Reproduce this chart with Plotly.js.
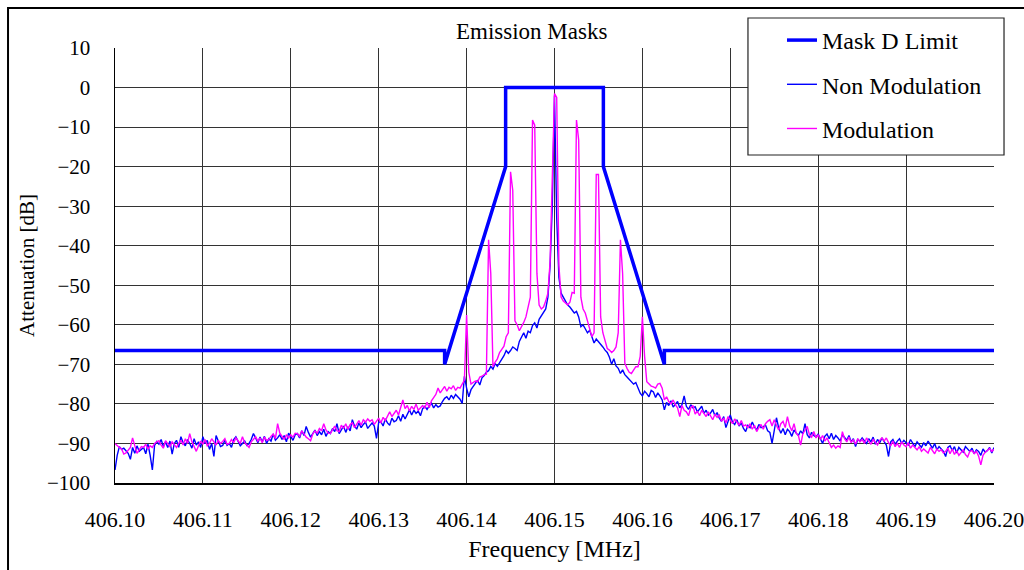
<!DOCTYPE html>
<html>
<head>
<meta charset="utf-8">
<script src="https://cdn.plot.ly/plotly-3.0.1.min.js"></script>
<style>html,body{margin:0;padding:0;background:#fff;}#chart{width:1024px;height:570px;}</style>
</head>
<body>
<div id="chart"></div>
<script>
// Frequency grid (MHz)
const fStart = 406.10;
const fStep = 0.00025;

// Non Modulation trace (dB)
const nonMod = [
-96.7,-93.0,-90.8,-91.5,-91.2,-91.8,-92.5,-94.0,-91.0,-92.5,-90.6,-92.0,-91.4,-91.0,-92.6,-90.2,-93.0,-96.7,-90.5,-89.5,
-90.2,-89.0,-90.8,-89.6,-91.0,-89.4,-92.7,-90.0,-89.2,-91.0,-88.3,-89.8,-90.6,-89.0,-90.0,-91.2,-88.8,-90.4,-89.6,-91.0,
-88.3,-90.0,-89.2,-91.5,-90.0,-93.3,-88.0,-89.5,-90.8,-90.5,-89.2,-90.5,-90.0,-91.0,-89.0,-88.3,-89.6,-90.6,-90.0,-89.4,
-90.5,-90.0,-89.0,-87.5,-88.6,-89.8,-88.4,-89.6,-88.2,-90.0,-88.8,-89.4,-87.6,-89.2,-88.6,-87.8,-89.0,-88.0,-89.6,-87.4,
-88.3,-89.2,-87.8,-87.5,-88.6,-86.8,-88.0,-85.7,-87.2,-88.4,-87.5,-86.6,-88.0,-87.0,-87.8,-86.4,-88.2,-87.0,-87.5,-86.2,
-87.0,-85.0,-87.5,-86.4,-85.6,-87.2,-85.8,-86.8,-84.0,-85.6,-86.4,-84.8,-86.0,-85.2,-84.6,-86.2,-85.4,-84.8,-85.6,-88.7,
-84.6,-84.5,-85.6,-83.8,-84.8,-85.4,-83.6,-84.5,-84.2,-83.0,-84.4,-82.6,-83.8,-82.4,-81.5,-82.8,-81.6,-82.4,-81.8,-83.0,
-81.2,-80.6,-81.4,-80.5,-79.8,-81.0,-80.2,-80.8,-80.5,-79.4,-78.6,-78.2,-79.0,-77.8,-78.6,-77.6,-78.2,-78.8,-79.9,-73.0,
-76.0,-78.2,-76.4,-75.6,-74.8,-74.0,-75.2,-73.4,-72.8,-72.0,-71.6,-70.5,-71.2,-69.8,-70.5,-69.6,-68.4,-67.8,-66.5,-67.2,
-66.5,-65.6,-66.0,-66.5,-64.2,-63.0,-62.0,-63.4,-61.6,-62.0,-60.2,-59.5,-60.8,-58.6,-57.8,-57.0,-56.0,-53.0,-45.0,-30.0,
-2.0,-33.0,-48.0,-52.0,-53.0,-54.0,-55.0,-55.5,-56.4,-57.0,-56.6,-58.0,-60.5,-60.0,-61.0,-62.0,-61.4,-63.0,-64.6,-63.6,
-64.2,-65.0,-65.6,-66.4,-67.0,-68.2,-70.0,-68.6,-70.4,-71.0,-72.3,-71.4,-72.6,-73.2,-73.8,-74.4,-75.0,-74.6,-76.0,-77.3,
-78.0,-76.8,-77.4,-78.2,-76.6,-77.0,-78.4,-77.2,-78.0,-79.0,-81.5,-79.6,-80.4,-79.2,-80.8,-80.0,-79.4,-81.0,-80.2,-78.0,
-80.6,-81.4,-80.2,-81.0,-80.7,-82.0,-81.2,-80.6,-82.4,-81.6,-82.8,-82.3,-81.4,-83.0,-82.2,-83.6,-84.4,-83.2,-86.0,-84.4,
-82.8,-84.6,-85.2,-84.0,-85.6,-84.8,-86.2,-87.0,-85.4,-86.0,-84.6,-85.8,-86.6,-85.2,-86.0,-85.8,-85.3,-86.8,-87.2,-90.0,
-86.4,-83.5,-86.0,-87.4,-86.2,-87.8,-86.4,-87.0,-88.2,-86.6,-87.4,-88.0,-86.8,-87.6,-85.0,-87.8,-88.6,-87.2,-88.0,-88.4,
-87.6,-89.0,-90.0,-88.2,-87.6,-88.8,-87.4,-89.0,-88.0,-88.6,-89.4,-87.8,-88.4,-89.2,-88.0,-89.6,-88.8,-90.8,-89.0,-89.4,
-88.6,-89.2,-90.0,-88.8,-89.6,-88.4,-90.2,-89.0,-89.8,-88.6,-89.4,-90.4,-93.3,-89.6,-89.0,-90.2,-89.4,-88.8,-90.0,-89.2,
-89.8,-90.4,-89.0,-90.0,-90.8,-89.6,-90.2,-91.0,-89.8,-90.6,-89.4,-90.4,-91.2,-90.0,-91.6,-90.8,-91.4,-92.0,-93.3,-91.0,
-90.6,-91.8,-90.8,-92.4,-91.0,-91.6,-92.2,-90.8,-91.4,-92.0,-91.2,-92.6,-91.6,-92.0,-93.0,-91.4,-92.2,-91.8,-91.0,-92.4,
-91.0
];

// Modulation trace (dB)
const modulated = [
-90.0,-90.6,-91.0,-91.4,-92.7,-92.4,-91.6,-91.0,-88.6,-90.4,-92.5,-91.6,-90.8,-91.0,-90.2,-91.4,-90.6,-91.0,-90.0,-89.6,
-89.3,-90.4,-91.2,-89.3,-90.0,-90.8,-89.6,-90.4,-91.0,-90.0,-89.2,-90.4,-88.8,-90.0,-87.5,-89.6,-91.0,-92.0,-90.6,-89.4,
-90.2,-89.0,-90.6,-90.0,-88.8,-89.6,-90.4,-89.2,-90.0,-89.5,-88.8,-90.2,-90.0,-89.0,-89.8,-88.6,-89.4,-90.0,-88.3,-89.8,
-90.4,-91.0,-89.6,-88.8,-88.3,-89.4,-88.6,-89.8,-88.4,-89.2,-89.0,-88.2,-87.6,-88.8,-85.0,-87.4,-88.3,-89.0,-87.8,-88.6,
-87.8,-88.4,-87.4,-87.5,-88.2,-86.8,-87.6,-88.4,-88.8,-89.3,-87.6,-86.8,-87.4,-86.2,-86.8,-85.0,-86.6,-87.4,-87.5,-86.4,
-85.6,-86.8,-87.0,-85.4,-86.2,-85.0,-86.4,-85.2,-84.8,-86.0,-85.0,-84.2,-85.4,-84.0,-84.6,-83.8,-84.4,-84.0,-85.2,-84.4,
-83.6,-84.8,-83.4,-84.2,-83.0,-82.0,-83.2,-82.4,-81.6,-82.8,-80.6,-79.0,-81.2,-80.4,-81.8,-80.6,-81.4,-80.0,-81.6,-81.0,
-80.4,-81.0,-79.6,-81.0,-79.2,-78.4,-77.6,-76.0,-77.2,-76.4,-75.6,-76.8,-75.8,-76.2,-75.4,-76.6,-75.8,-76.0,-75.0,-74.0,
-57.5,-72.0,-75.0,-74.6,-74.2,-74.4,-73.2,-73.0,-72.6,-72.5,-38.5,-47.0,-70.6,-69.4,-68.6,-67.0,-66.2,-65.4,-63.0,-62.0,
-21.3,-26.0,-59.0,-60.0,-61.5,-60.6,-59.4,-58.0,-55.0,-53.0,-8.2,-9.5,-47.0,-55.0,-56.0,-55.5,-54.0,-52.0,-44.0,-20.0,
-1.5,-2.5,-45.0,-53.0,-54.0,-54.5,-55.0,-54.3,-51.8,-52.0,-8.2,-13.3,-53.0,-56.0,-57.0,-59.0,-61.0,-63.0,-62.0,-22.0,
-22.0,-58.0,-62.0,-64.0,-66.0,-66.4,-67.0,-66.5,-65.6,-62.0,-38.5,-47.0,-69.7,-71.0,-72.0,-72.3,-71.5,-70.6,-70.6,-68.0,
-58.0,-68.0,-74.4,-75.0,-75.5,-75.7,-76.0,-75.0,-74.8,-76.0,-79.0,-78.2,-79.4,-80.0,-79.0,-80.2,-81.0,-83.2,-80.4,-81.6,
-82.0,-83.0,-81.0,-80.4,-82.6,-81.8,-83.0,-81.6,-82.4,-83.2,-82.0,-83.0,-84.0,-82.6,-83.4,-82.8,-84.4,-83.6,-84.8,-83.2,
-84.0,-85.0,-83.8,-84.6,-85.4,-84.2,-85.6,-85.3,-86.0,-85.0,-86.4,-85.4,-87.0,-86.0,-85.2,-86.4,-85.0,-84.4,-84.0,-85.6,
-84.0,-85.4,-86.6,-85.0,-84.4,-86.0,-83.2,-85.6,-86.8,-85.0,-87.4,-88.0,-90.4,-87.6,-86.6,-85.7,-87.8,-88.4,-87.0,-88.6,
-87.8,-89.0,-88.0,-89.4,-88.6,-90.0,-91.0,-90.4,-91.2,-90.6,-91.0,-87.0,-88.8,-89.6,-88.4,-89.8,-89.0,-90.2,-88.8,-89.6,
-89.0,-90.0,-88.6,-89.4,-90.2,-89.0,-89.8,-90.4,-89.2,-88.6,-89.4,-88.6,-89.8,-90.6,-89.4,-90.8,-90.0,-91.0,-89.6,-90.4,
-90.8,-89.8,-91.2,-90.4,-91.0,-91.6,-90.8,-92.0,-91.4,-91.8,-92.4,-91.0,-91.8,-92.6,-91.4,-92.0,-91.6,-92.4,-92.0,-91.2,
-92.6,-91.4,-92.8,-91.8,-93.0,-92.2,-91.6,-92.8,-93.4,-92.0,-91.8,-92.6,-92.0,-93.2,-95.4,-93.0,-92.2,-91.8,-91.3,-92.0,
-91.5
];

// Mask D limit vertices
const maskFreq = [406.10, 406.1375, 406.1375, 406.14444, 406.14444, 406.15556, 406.15556, 406.1625, 406.1625, 406.20];
const maskLevel = [-66.5, -66.5, -70, -20, 0, 0, -20, -70, -66.5, -66.5];

// Axis ticks
const xTickVals = [406.10, 406.11, 406.12, 406.13, 406.14, 406.15, 406.16, 406.17, 406.18, 406.19, 406.20];
const xTickText = ['406.10','406.11','406.12','406.13','406.14','406.15','406.16','406.17','406.18','406.19','406.20'];
const yTickVals = [10, 0, -10, -20, -30, -40, -50, -60, -70, -80, -90, -100];

const freq = nonMod.map((_, i) => fStart + i * fStep);

const FONT = 'Liberation Serif, Times New Roman, serif';

const traces = [
  {x: maskFreq, y: maskLevel, mode: 'lines', name: 'Mask D Limit', legendgroup: 'a',
   line: {color: '#0000FF', width: 3.5}},
  {x: freq, y: nonMod, mode: 'lines', name: 'Non Modulation', legendgroup: 'b',
   line: {color: '#0000FF', width: 1.4}},
  {x: freq, y: modulated, mode: 'lines', name: 'Modulation', legendgroup: 'c',
   line: {color: '#FF00FF', width: 1.4}}
];

const layout = {
  width: 1024, height: 570,
  margin: {l: 115, r: 30, t: 48, b: 87},
  paper_bgcolor: '#fff', plot_bgcolor: '#fff',
  font: {family: FONT, size: 22, color: '#000'},
  showlegend: true,
  legend: {x: 0.7588, y: 1.069, xanchor: 'left', yanchor: 'top',
    bgcolor: 'rgba(0,0,0,0)', borderwidth: 0,
    font: {family: FONT, size: 24, color: '#000'}, tracegroupgap: 10, traceorder: 'grouped'},
  xaxis: {range: [406.10, 406.20], tickmode: 'array', tickvals: xTickVals, ticktext: xTickText,
    showgrid: true, gridcolor: '#333', gridwidth: 1, zeroline: false,
    showline: true, linecolor: '#000', linewidth: 1.5, mirror: false,
    ticks: '', ticklabelstandoff: 16, ticklabeloverflow: 'allow',
    tickfont: {family: FONT, size: 22, color: '#000'},
    title: {text: 'Frequency [MHz]', font: {family: FONT, size: 24, color: '#000'}, standoff: 9}},
  yaxis: {range: [-100, 10], tickmode: 'array', tickvals: yTickVals,
    showgrid: true, gridcolor: '#333', gridwidth: 1, zeroline: false,
    showline: true, linecolor: '#000', linewidth: 1.5, mirror: false,
    ticks: '', ticklabelstandoff: 19,
    tickfont: {family: FONT, size: 21, color: '#000'},
    title: {text: 'Attenuation [dB]', font: {family: FONT, size: 21, color: '#000'}, standoff: 6}},
  annotations: [
    {text: 'Emission Masks', xref: 'paper', yref: 'paper', x: 0.4744, y: 1.039,
     xanchor: 'center', yanchor: 'middle', showarrow: false,
     font: {family: FONT, size: 23, color: '#000'}}
  ],
  shapes: [
    {type: 'rect', xref: 'paper', yref: 'paper', x0: -0.1217, x1: 1.05, y0: -0.25, y1: 1.092,
     line: {color: '#000', width: 2}, fillcolor: 'rgba(0,0,0,0)', layer: 'below'},
    {type: 'rect', xref: 'paper', yref: 'paper', x0: 0.7201, x1: 1.0114, y0: 0.754, y1: 1.069,
     line: {color: '#222', width: 1.2}, fillcolor: '#fff', layer: 'above'}
  ]
};

Plotly.newPlot('chart', traces, layout, {displayModeBar: false, staticPlot: true});
</script>
</body>
</html>
